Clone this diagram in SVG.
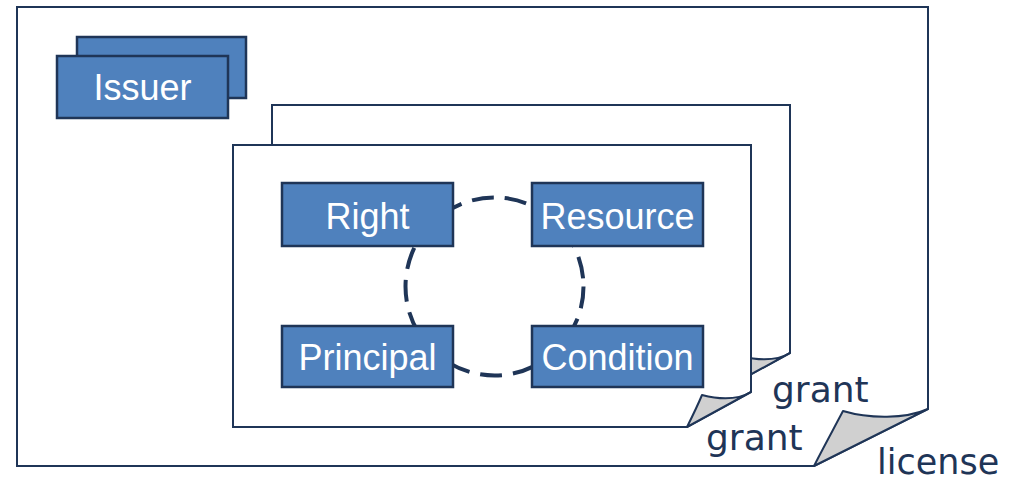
<svg xmlns="http://www.w3.org/2000/svg" width="1021" height="483" viewBox="0 0 1021 483">
<style>
.page{fill:#fff;stroke:#1F3557;stroke-width:2;stroke-linejoin:miter}
.curl{fill:#D0D0D0;stroke:#1F3557;stroke-width:2;stroke-linejoin:round}
.box{fill:#4F81BD;stroke:#1F3557;stroke-width:2.5}
.lbl{font-family:"Liberation Sans",Arial,sans-serif;font-size:36px;fill:#fff;text-anchor:middle}
.cap{font-family:"DejaVu Sans",Verdana,sans-serif;font-size:36px;fill:#1F3557}
.ring{fill:none;stroke:#1F3557;stroke-width:4;stroke-dasharray:22 11}
</style>
<g id="license">
<path class="page" d="M17,7 H928 V409 L814,466 H17 Z"/>
<path class="curl" d="M928,409 C905,419 870,419 843,411 C833,430 822,450 814,466 Z"/>
<text class="cap" x="877" y="474" style="font-size:35px">license</text>
</g>
<g id="issuer">
<rect class="box" x="77" y="37" width="169" height="61"/>
<rect class="box" x="57" y="56" width="171" height="62"/>
<text class="lbl" x="142.5" y="100">Issuer</text>
</g>
<g id="grant-back">
<path class="page" d="M272,105 H790 V353 L726,388 H272 Z"/>
<path class="curl" d="M790,353 C778,360 760,361 741,356 C736,368 731,378 726,388 Z"/>
<text class="cap" x="772" y="402">grant</text>
</g>
<g id="grant-front">
<path class="page" d="M233,145 H751 V392 L687,427 H233 Z"/>
<path class="curl" d="M751,392 C739,399 721,400 702,395 C697,407 692,417 687,427 Z"/>
<text class="cap" x="706" y="450">grant</text>
</g>
<g id="connectors">
<circle class="ring" cx="494.5" cy="286.5" r="89"/>
</g>
<g id="right">
<rect class="box" x="282" y="183" width="171" height="63"/>
<text class="lbl" x="367.5" y="229">Right</text>
</g>
<g id="resource">
<rect class="box" x="532" y="183" width="171" height="63"/>
<text class="lbl" x="617.5" y="229">Resource</text>
</g>
<g id="principal">
<rect class="box" x="282" y="326" width="171" height="61"/>
<text class="lbl" x="367.5" y="370">Principal</text>
</g>
<g id="condition">
<rect class="box" x="532" y="326" width="171" height="61"/>
<text class="lbl" x="617.5" y="370">Condition</text>
</g>
</svg>
